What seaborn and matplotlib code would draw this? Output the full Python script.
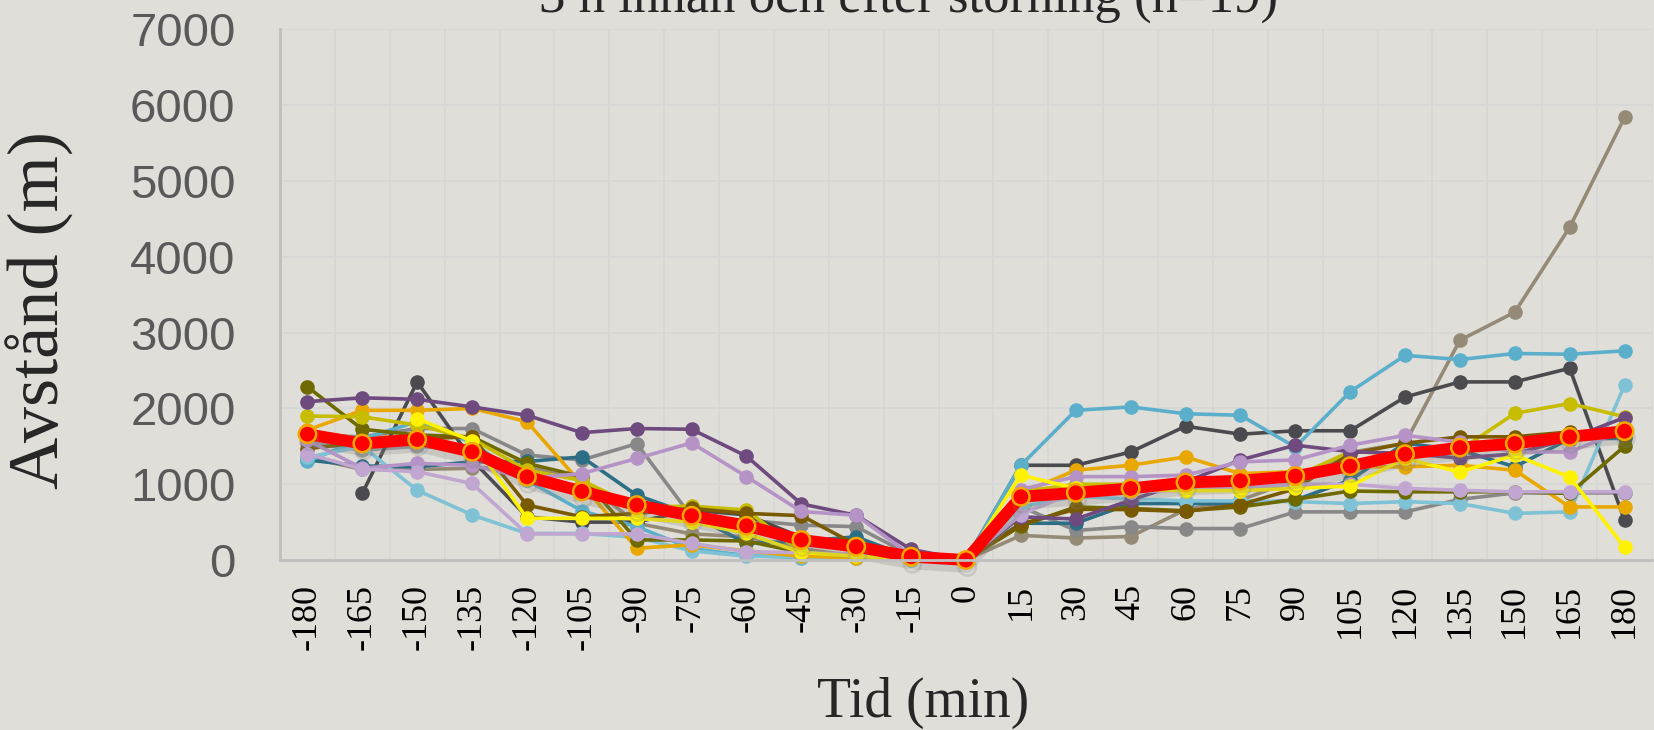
import numpy as np
import pandas as pd
import matplotlib
matplotlib.use('Agg')
import matplotlib.pyplot as plt
import matplotlib.patheffects as pe
import seaborn as sns

nan = np.nan
TIMES = list(range(-180, 181, 15))

# one list per ship/track, 25 values from -180 to 180 min
taupe = [1355, 1195, 1195, 1210, 1230, 1050, 485, 345, 305, 150, 50, 10, 0,
         325, 290, 310, 665, 790, 1055, 1420, 1540, 2900, 3270, 4390, 5840]
gray = [1650, 1625, 1735, 1735, 1385, 1320, 1535, 570, 525, 460, 440, 60, 0,
        705, 390, 440, 415, 415, 635, 635, 635, 800, 885, 885, 885]
dark_gray = [nan, 880, 2350, 1320, 570, 500, 500, 660, 595, 300, 150, 20, 0,
             1250, 1250, 1425, 1765, 1660, 1705, 1705, 2150, 2350, 2350, 2530, 525]
dark_teal = [1320, 1240, 1230, 1295, 1300, 1360, 855, 600, 220, 250, 305, 30, 0,
             485, 485, 745, 745, 740, 790, 1055, 1540, 1450, 1230, 1600, 1605]
teal_blue = [1300, 1600, 1825, 1550, 1050, 650, 440, 150, 60, 30, 20, 5, 0,
             1250, 1975, 2020, 1930, 1910, 1490, 2220, 2700, 2645, 2725, 2715, 2760]
light_blue = [1355, 1500, 920, 595, 350, 350, 300, 120, 50, 40, 20, 5, 0,
              700, 840, 805, 780, 780, 770, 745, 770, 745, 615, 635, 2305]
orange = [1715, 1975, 1975, 2000, 1825, 1000, 155, 200, 120, 50, 30, 10, 0,
          880, 1185, 1250, 1360, 1140, 1165, 1230, 1230, 1250, 1185, 700, 700]
olive = [2285, 1725, 1650, 1625, 1275, 1100, 265, 265, 250, 100, 60, 10, 0,
         450, 700, 680, 650, 700, 800, 910, 900, 900, 900, 880, 1500]
yellow_olive = [1900, 1890, 1780, 1600, 1185, 1050, 700, 710, 660, 100, 50, 10, 0,
                900, 1000, 1000, 1000, 1000, 1100, 1430, 1400, 1450, 1935, 2065, 1890]
brown = [1470, 1550, 1600, 1625, 725, 570, 615, 680, 615, 585, 200, 20, 0,
         475, 670, 665, 640, 730, 940, 1400, 1540, 1625, 1625, 1690, 1650]
purple = [2090, 2140, 2120, 2020, 1910, 1680, 1735, 1725, 1370, 740, 590, 140, 0,
          570, 540, 790, 1030, 1320, 1515, 1430, 1405, 1345, 1400, 1600, 1880]
lilac_upper = [1580, 1210, 1275, 1250, 1080, 1140, 1340, 1545, 1100, 640, 590, 60, 0,
               930, 1100, 1100, 1120, 1295, 1320, 1515, 1645, 1555, 1425, 1425, 1715]
lilac_lower = [1400, 1200, 1165, 1010, 345, 345, 345, 220, 110, 95, 80, 20, 0,
               600, 900, 900, 920, 950, 1000, 1000, 945, 920, 900, 900, 900]
yellow = [nan, nan, 1865, 1570, 550, 550, 550, 500, 350, 100, 50, 10, 0,
          1120, 945, 930, 915, 915, 945, 975, 1340, 1160, 1385, 1095, 170]
# tracks mostly hidden under the mean line
teal_blue2 = [1600, 1500, 1550, 1400, 1100, 900, 700, 550, 450, 250, 180, 40, 0,
              800, 900, 950, 1000, 1050, 1100, 1250, 1400, 1500, 1550, 1650, 1700]
gray2 = [1550, 1450, 1500, 1450, 1150, 950, 750, 600, 480, 280, 200, 50, 0,
         850, 860, 920, 1000, 1030, 1080, 1200, 1350, 1450, 1500, 1580, 1650]
orange2 = [1700, 1600, 1650, 1450, 1050, 880, 680, 560, 420, 230, 150, 40, 0,
           820, 880, 930, 1010, 1040, 1100, 1230, 1380, 1470, 1530, 1620, 1700]
olive2 = [1620, 1520, 1580, 1420, 1120, 920, 720, 590, 440, 260, 170, 40, 0,
          790, 870, 940, 990, 1050, 1090, 1240, 1390, 1480, 1540, 1600, 1690]
brown2 = [1680, 1560, 1620, 1440, 1090, 900, 700, 580, 430, 240, 160, 40, 0,
          810, 890, 950, 1020, 1040, 1110, 1220, 1390, 1490, 1540, 1630, 1710]
mean_dist = [1660, 1537, 1590, 1427, 1098, 905, 725, 584, 452, 264, 176, 44, 0,
             834, 887, 944, 1023, 1045, 1107, 1238, 1396, 1483, 1537, 1625, 1700]

SERIES = {
    'teal_blue2': (teal_blue2, '#4FA3C1'), 'gray2': (gray2, '#9A9A9A'),
    'orange2': (orange2, '#D99A00'), 'olive2': (olive2, '#7A7600'),
    'brown2': (brown2, '#85642A'),
    'taupe': (taupe, '#958A75'), 'gray': (gray, '#888888'),
    'dark_gray': (dark_gray, '#4B4B4F'), 'dark_teal': (dark_teal, '#2B6E86'),
    'teal_blue': (teal_blue, '#5BAFCB'), 'light_blue': (light_blue, '#7FC2D6'),
    'orange': (orange, '#E8A800'), 'olive': (olive, '#6E6A00'),
    'yellow_olive': (yellow_olive, '#C8BC00'), 'brown': (brown, '#7A5A00'),
    'purple': (purple, '#6E4A7E'), 'lilac_upper': (lilac_upper, '#B593C6'),
    'lilac_lower': (lilac_lower, '#C0A6D0'), 'yellow': (yellow, '#FFF200'),
}

rows = []
for name, (vals, _) in SERIES.items():
    for i, (t, v) in enumerate(zip(TIMES, vals)):
        rows.append({'serie': name, 'pos': i, 'tid': t, 'value': v})
df = pd.DataFrame(rows).dropna()
palette = {k: c for k, (_, c) in SERIES.items()}
mean_df = pd.DataFrame({'pos': range(len(TIMES)), 'value': mean_dist})

BG = '#E0DED8'
sns.set_style('white')
plt.rcParams.update({'font.family': ['Liberation Sans', 'DejaVu Sans'],
                     'axes.facecolor': BG, 'figure.facecolor': BG,
                     'savefig.facecolor': BG})

fig = plt.figure(figsize=(16.54, 7.30), dpi=100)
ax = fig.add_axes([280 / 1654, 1 - 560 / 730, 1372 / 1654, 530.5 / 730])

sns.lineplot(data=df, x='pos', y='value', hue='serie', palette=palette,
             hue_order=list(SERIES), estimator=None, sort=False, legend=False,
             marker='o', markersize=10.5, markeredgewidth=0, linewidth=2.6, ax=ax)
sns.lineplot(data=mean_df, x='pos', y='value', color='#FF0000', estimator=None,
             linewidth=8.5, marker='o', markersize=12.5, markerfacecolor='#FF0000',
             markeredgecolor='#F5A800', markeredgewidth=1.8, ax=ax,
             path_effects=[pe.SimpleLineShadow(offset=(1, -5), shadow_color='#808080',
                                               alpha=0.25), pe.Normal()])
for ln in ax.lines:
    ln.set_clip_on(False)

ax.set_xlim(-0.5, len(TIMES) - 0.5)
ax.set_ylim(0, 7000)
ax.set_yticks(range(0, 7001, 1000))
ax.set_xticks(range(len(TIMES)))
ax.set_xticklabels([str(t) for t in TIMES])
ax.set_xticks(np.arange(-0.5, len(TIMES), 1), minor=True)
ax.set_xlabel('')
ax.set_ylabel('')

grid_c = '#D6D6D6'
ax.grid(which='minor', axis='x', color=grid_c, linewidth=1.2)
ax.grid(which='major', axis='y', color=grid_c, linewidth=1.2)
ax.set_axisbelow(True)
for s in ('top', 'right'):
    ax.spines[s].set_visible(False)
for s in ('left', 'bottom'):
    ax.spines[s].set_color('#BFBFBF')
    ax.spines[s].set_linewidth(2)

ax.tick_params(axis='x', which='major', length=0, pad=17, labelsize=26,
               labelrotation=90, labelcolor='black')
ax.tick_params(axis='x', which='minor', length=8, width=1.5, color='#BFBFBF')
ax.tick_params(axis='y', length=10, width=1.5, color='#BFBFBF', pad=22,
               labelsize=34, labelcolor='#595959')
for lbl in ax.get_xticklabels():
    lbl.set_fontfamily('Liberation Serif')

# title sits partly above the canvas, as in the source export
fig.text(909 / 1654, 1 - 12 / 730, '3 h innan och efter störning (n=19)',
         ha='center', va='baseline', fontsize=38, family='Liberation Serif')
fig.text(923 / 1654, 1 - 703 / 730, 'Tid (min)', ha='center', va='center',
         fontsize=40, family='Liberation Serif')
fig.text(40 / 1654, 1 - 310 / 730, 'Avstånd (m)', ha='center', va='center',
         rotation=90, fontsize=52, family='Liberation Serif')

fig.savefig('out.png', dpi=100)
